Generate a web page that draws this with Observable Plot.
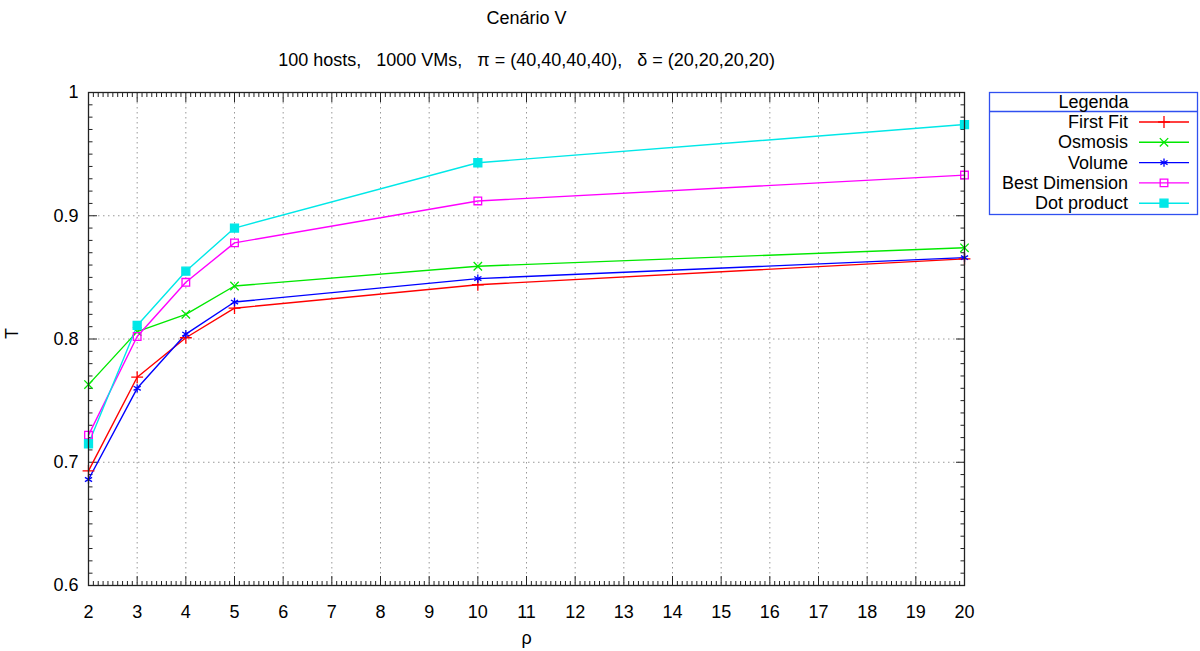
<!DOCTYPE html>
<html>
<head>
<meta charset="utf-8">
<script src="https://cdn.jsdelivr.net/npm/d3@7"></script>
<script src="https://cdn.jsdelivr.net/npm/@observablehq/plot@0.6"></script>
<style>
  html, body { margin: 0; padding: 0; background: #fff; }
  #wrap { position: relative; width: 1200px; height: 651px; font-family: "Liberation Sans", Arial, sans-serif; }
  #legend { position: absolute; left: 0; top: 0; }
</style>
</head>
<body>
<div id="wrap"></div>
<script>
// ---- data ----
const rho = [2, 3, 4, 5, 10, 20];
const seriesNames = ["First Fit", "Osmosis", "Volume", "Best Dimension", "Dot product"];
const firstFit   = [0.693, 0.769, 0.801, 0.825, 0.844, 0.865];
const osmosis    = [0.763, 0.806, 0.820, 0.843, 0.859, 0.874];
const volume     = [0.686, 0.760, 0.804, 0.830, 0.849, 0.866];
const bestDim    = [0.722, 0.802, 0.846, 0.878, 0.912, 0.933];
const dotProduct = [0.715, 0.811, 0.855, 0.890, 0.943, 0.974];
const xTicks = d3.range(2, 21);
const yTicks = [0.6, 0.7, 0.8, 0.9, 1];
const yTickLabels = ["0.6", "0.7", "0.8", "0.9", "1"];
const titleText = "Cenário V";
const subtitleText = "100 hosts,   1000 VMs,   π = (40,40,40,40),   δ = (20,20,20,20)";
const xLabel = "ρ";
const yLabel = "T";
const legendTitle = "Legenda";

// ---- styles ----
const colors  = ["#ff0000", "#00e800", "#0000ff", "#ff00ff", "#00e8e8"];
const symbols = ["plus", "times", "asterisk", "square", "square"];
const fills   = ["none", "none", "none", "none", "#00e8e8"];
const radii   = [3.9, 3.9, 3.9, 4.3, 4.5];

const values = [firstFit, osmosis, volume, bestDim, dotProduct];
const rows = [];
seriesNames.forEach((s, i) => rho.forEach((x, j) => rows.push({series: s, x, y: values[i][j]})));

const xMinor = d3.range(20, 201).map(v => v / 10).filter(v => !Number.isInteger(v));
const yMinor = d3.range(60, 101).map(v => v / 100).filter(v => Math.round(v * 100) % 10 !== 0);

const ml = 88, mr = 236, mt = 92, mb = 66;

const dotMarks = seriesNames.map((s, i) =>
  Plot.dot(rows.filter(d => d.series === s), {
    x: "x", y: "y", symbol: () => symbols[i], stroke: colors[i], fill: fills[i], r: radii[i], strokeWidth: 1.3
  })
);

const chart = Plot.plot({
  width: 1200,
  height: 651,
  marginLeft: ml, marginRight: mr, marginTop: mt, marginBottom: mb,
  style: {fontFamily: "'Liberation Sans', Arial, sans-serif", fontSize: "18px", color: "#000", background: "#fff"},
  x: {domain: [2, 20], axis: null},
  y: {domain: [0.6, 1], axis: null},
  symbol: {type: "identity"},
  marks: [
    Plot.gridX(xTicks, {stroke: "#999", strokeOpacity: 1, strokeDasharray: "1.5,3.5"}),
    Plot.gridY(yTicks, {stroke: "#999", strokeOpacity: 1, strokeDasharray: "1.5,3.5"}),
    // tick labels
    Plot.axisX(xTicks, {anchor: "bottom", tickSize: 0, tickPadding: 20, label: null}),
    Plot.axisY(yTicks, {anchor: "left", tickSize: 0, tickPadding: 10, label: null,
      tickFormat: v => yTickLabels[yTicks.indexOf(v)]}),
    // inward ticks (major + minor), mirrored
    Plot.axisX(xTicks, {anchor: "bottom", tickSize: -9, fill: "none", label: null, stroke: "#222"}),
    Plot.axisX(xMinor, {anchor: "bottom", tickSize: -4, fill: "none", label: null, stroke: "#222"}),
    Plot.axisX(xTicks, {anchor: "top", tickSize: -9, fill: "none", label: null, stroke: "#222"}),
    Plot.axisX(xMinor, {anchor: "top", tickSize: -4, fill: "none", label: null, stroke: "#222"}),
    Plot.axisY(yTicks, {anchor: "left", tickSize: -9, fill: "none", label: null, stroke: "#222"}),
    Plot.axisY(yMinor, {anchor: "left", tickSize: -4.5, fill: "none", label: null, stroke: "#222"}),
    Plot.axisY(yTicks, {anchor: "right", tickSize: -9, fill: "none", label: null, stroke: "#222"}),
    Plot.axisY(yMinor, {anchor: "right", tickSize: -4.5, fill: "none", label: null, stroke: "#222"}),
    // series
    Plot.line(rows, {x: "x", y: "y", z: "series", stroke: d => colors[seriesNames.indexOf(d.series)], strokeWidth: 1.4}),
    ...dotMarks,
    Plot.frame({stroke: "#222", strokeWidth: 1.3}),
    // titles and axis labels
    Plot.text([titleText], {frameAnchor: "top", dy: -74, text: d => d, fontSize: 18, lineAnchor: "middle"}),
    Plot.text([subtitleText], {frameAnchor: "top", dy: -32, text: d => d, fontSize: 18, lineAnchor: "middle"}),
    Plot.text([xLabel], {frameAnchor: "bottom", dy: 53, text: d => d, fontSize: 18, lineAnchor: "middle"}),
    Plot.text([yLabel], {frameAnchor: "left", dx: -76, text: d => d, fontSize: 18, rotate: -90, lineAnchor: "middle"})
  ]
});
d3.select(chart).selectAll("text").style("white-space", "pre");
document.getElementById("wrap").appendChild(chart);

// ---- legend (gnuplot style box) ----
const lg = d3.select("#wrap").append("svg").attr("id", "legend")
  .attr("width", 1200).attr("height", 651)
  .style("pointer-events", "none");
const L = 989, T = 92, W = 209, H = 122;
lg.append("rect").attr("x", L + 0.5).attr("y", T + 0.5).attr("width", W - 1).attr("height", H)
  .attr("fill", "white").attr("stroke", "#3050f0").attr("stroke-width", 1.3);
lg.append("line").attr("x1", L).attr("x2", L + W).attr("y1", T + 19.5).attr("y2", T + 19.5)
  .attr("stroke", "#3050f0").attr("stroke-width", 1.3);
lg.append("text").attr("x", L + W / 2).attr("y", T + 10).attr("text-anchor", "middle")
  .attr("dominant-baseline", "central").attr("font-size", 18).text(legendTitle);
const symMap = {plus: d3.symbolPlus, times: d3.symbolTimes, asterisk: d3.symbolAsterisk, square: d3.symbolSquare};
seriesNames.forEach((s, i) => {
  const cy = T + 30 + i * 20.3;
  lg.append("text").attr("x", 1128).attr("y", cy).attr("text-anchor", "end")
    .attr("dominant-baseline", "central").attr("font-size", 18).text(s);
  lg.append("line").attr("x1", 1139).attr("x2", 1189).attr("y1", cy).attr("y2", cy)
    .attr("stroke", colors[i]).attr("stroke-width", 1.4);
  lg.append("path").attr("transform", `translate(1164,${cy})`)
    .attr("d", d3.symbol(symMap[symbols[i]], radii[i] * radii[i] * Math.PI)())
    .attr("fill", fills[i]).attr("stroke", colors[i]).attr("stroke-width", 1.3);
});
</script>
</body>
</html>
